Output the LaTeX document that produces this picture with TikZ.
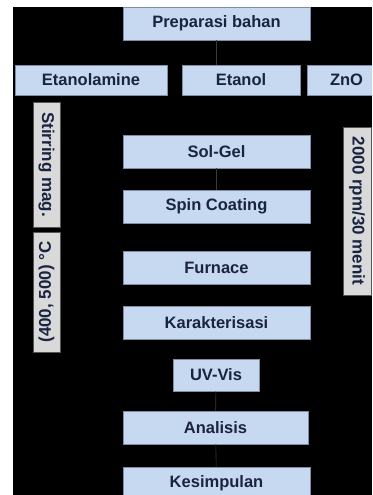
\documentclass[tikz,border=0pt]{standalone}
\usepackage{fontspec}
\setmainfont{Liberation Sans}
\usetikzlibrary{positioning}
\definecolor{stepfill}{HTML}{C6D9F1}
\definecolor{stepline}{HTML}{7F8EA3}
\definecolor{sidefill}{HTML}{D9D9D9}
\definecolor{sideline}{HTML}{555555}
\definecolor{stepink}{HTML}{1A2440}
\definecolor{linkgray}{HTML}{3A3A3A}

\tikzset{
  stepbox/.style={draw=stepline, fill=stepfill, line width=0.6pt, text=stepink,
    font=\bfseries\fontsize{16.5}{18}\selectfont, inner sep=0pt, outer sep=0pt,
    minimum width=187pt, minimum height=33pt},
  sidebox/.style={draw=sideline, fill=sidefill, line width=0.6pt, text=stepink,
    font=\bfseries\fontsize{17}{19}\selectfont, inner sep=0pt, outer sep=0pt,
    minimum height=27pt},
  link/.style={draw=linkgray, line width=0.6pt}
}

\begin{document}
\begin{tikzpicture}[x=1pt,y=-1pt]
  \useasboundingbox (0,0) rectangle (372,495);
  \clip (0,0) rectangle (372,495);
  %--------------- background ---------------
  \fill[black] (13,7) rectangle (372,495);

  %--------------- materials ---------------
  \node[stepbox] (prep) at (216.5,23.5) {Preparasi bahan};
  \node[stepbox, minimum width=152pt, minimum height=30pt] (etanolamine) at (91,80) {Etanolamine};
  \node[stepbox, minimum width=118pt, minimum height=30pt] (etanol) at (241,80) {Etanol};
  \node[stepbox, minimum width=68pt, minimum height=30pt, text width=22pt, align=left] (zno) at (341,80) {ZnO};

  %--------------- process ---------------
  \node[stepbox] (solgel) at (216.5,151.5) {Sol-Gel};
  \node[stepbox] (spin) at (216.5,206.5) {Spin Coating};
  \node[stepbox] (furnace) at (216.5,268) {Furnace};
  \node[stepbox] (karak) at (216.5,323) {Karakterisasi};
  \node[stepbox, minimum width=86pt, minimum height=32pt] (uvvis) at (216,375) {UV-Vis};
  \node[stepbox, minimum width=185pt] (analisis) at (215.5,427.5) {Analisis};
  \node[stepbox] (kesimpulan) at (216.5,483.5) {Kesimpulan};

  %--------------- side notes ---------------
  \node[sidebox, rotate=-90, minimum width=125pt] (stirring) at (46.5,164.5) {Stirring mag.};
  \node[sidebox, rotate=90, minimum width=120pt] (temp) at (46.5,292) {(400, 500) °C};
  \node[sidebox, rotate=-90, minimum width=168pt, minimum height=28pt] (rpm) at (357,211) {2000 rpm/30 menit};

  %--------------- links ---------------
  \draw[link] (prep.south) -- (prep.south |- etanol.north);
  \draw[link] (solgel) -- (spin);
  \draw[link] (uvvis) -- (analisis);
  \draw[link] (analisis) -- (kesimpulan);
\end{tikzpicture}
\end{document}
